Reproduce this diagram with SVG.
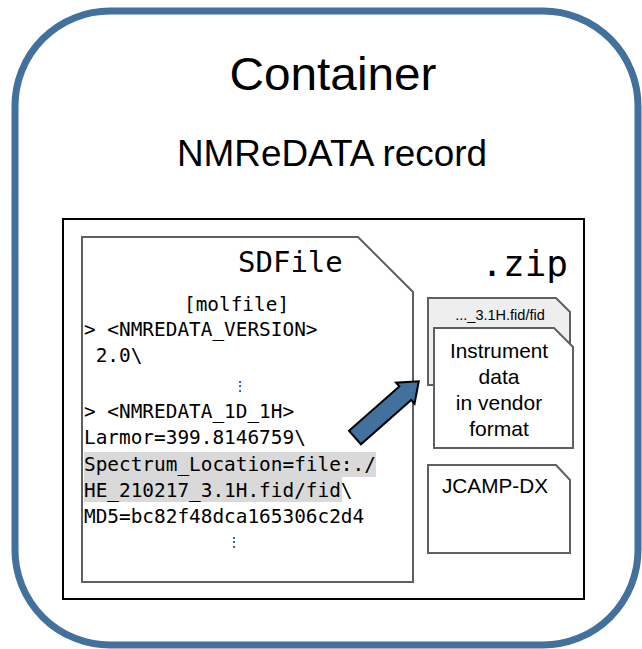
<svg xmlns="http://www.w3.org/2000/svg" width="642" height="649" viewBox="0 0 642 649">
<style>
.sans{font-family:"Liberation Sans",Arial,sans-serif;fill:#000}
.mono{font-family:"DejaVu Sans Mono",monospace;fill:#000}
.doc{fill:#fff;stroke:#606060;stroke-width:2}
.docback{fill:#eeeeee;stroke:#606060;stroke-width:2}
.code{font-size:19.4px}
.hl{fill:#d9d9d9}
</style>
<rect width="642" height="649" fill="#fff"/>
<g id="container">
<rect x="15" y="11" width="623" height="634" rx="95" ry="95" fill="none" stroke="#41719c" stroke-width="7"/>
<text class="sans" x="333" y="90" font-size="47" text-anchor="middle" textLength="207" lengthAdjust="spacingAndGlyphs">Container</text>
<text class="sans" x="332" y="166" font-size="36" text-anchor="middle" textLength="310" lengthAdjust="spacingAndGlyphs">NMReDATA record</text>
</g>
<g id="zip">
<rect x="63" y="219" width="521" height="380" fill="none" stroke="#000" stroke-width="2"/>
<text class="mono" x="568" y="276" font-size="36" text-anchor="end">.zip</text>
</g>
<g id="sdfile">
<path class="doc" d="M82,237 L358,237 L413,292 L413,582 L82,582 Z"/>
<text class="mono" x="238" y="272" font-size="29">SDFile</text>
<rect class="hl" x="84" y="452" width="292" height="25"/>
<rect class="hl" x="84" y="477" width="258" height="25"/>
<g class="mono code">
<text x="184" y="311">[molfile]</text>
<text x="84" y="336">&gt; &lt;NMREDATA_VERSION&gt;</text>
<text x="84" y="362" xml:space="preserve"> 2.0\</text>
<text x="240" y="390" font-size="12" text-anchor="middle">⋮</text>
<text x="84" y="418">&gt; &lt;NMREDATA_1D_1H&gt;</text>
<text x="84" y="444">Larmor=399.8146759\</text>
<text x="84" y="471">Spectrum_Location=file:./</text>
<text x="84" y="497">HE_210217_3.1H.fid/fid\</text>
<text x="84" y="523">MD5=bc82f48dca165306c2d4</text>
<text x="234" y="546" font-size="12" text-anchor="middle">⋮</text>
</g>
</g>
<g id="fid">
<path class="docback" d="M428,298 L556,298 L570,312 L570,385 L428,385 Z"/>
<text class="sans" x="500" y="320" font-size="14.5" text-anchor="middle">..._3.1H.fid/fid</text>
</g>
<g id="instrument">
<path class="doc" d="M434,328 L554,328 L573,347 L573,448 L434,448 Z"/>
<g class="sans" font-size="21" text-anchor="middle">
<text x="499" y="358" textLength="98" lengthAdjust="spacingAndGlyphs">Instrument</text>
<text x="499" y="384">data</text>
<text x="499" y="410">in vendor</text>
<text x="499" y="436">format</text>
</g>
</g>
<g id="jcamp">
<path class="doc" d="M428,465 L556,465 L570,480 L570,553 L428,553 Z"/>
<text class="sans" x="442" y="493" font-size="21" textLength="106" lengthAdjust="spacingAndGlyphs">JCAMP-DX</text>
</g>
<g id="connectors">
<path d="M0,-9 L67,-9 L67,-14 L85,0 L67,14 L67,9 L0,9 Z" transform="translate(355,437.5) rotate(-41.4)" fill="#41719c" stroke="#000" stroke-width="2" stroke-linejoin="miter"/>
</g>
</svg>
